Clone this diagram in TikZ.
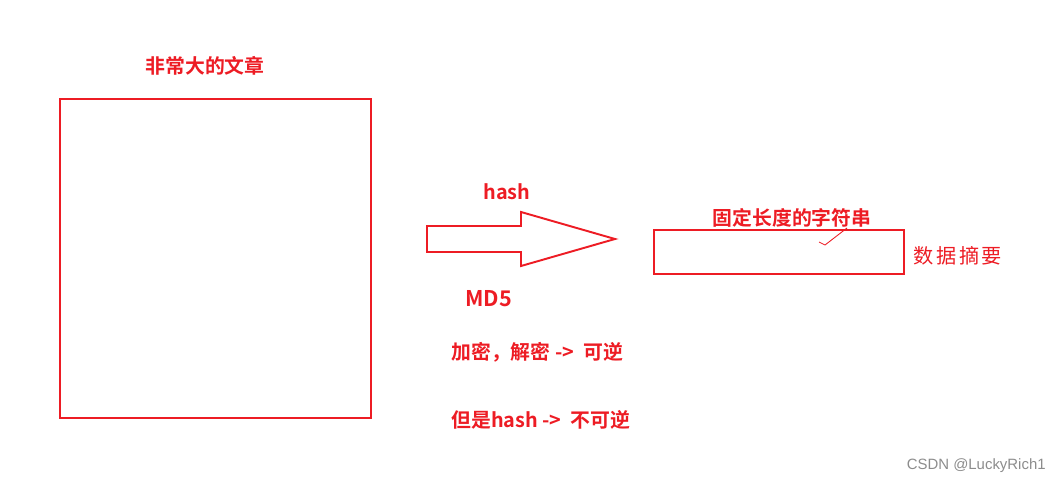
\documentclass[tikz,border=0pt]{standalone}
\usepackage{fontspec}
\setmainfont{Liberation Sans}
\newfontfamily\cjkbold{Noto Sans CJK SC}[BoldFont={Noto Sans CJK SC Bold}]
\newfontfamily\cjk{Noto Sans CJK SC}
\usetikzlibrary{positioning}
\definecolor{penred}{RGB}{237,28,36}
\tikzstyle{box} = [rectangle, draw=penred, line width=1.1pt]
\tikzstyle{label} = [text=penred, font=\cjkbold\bfseries\fontsize{11.3}{13}\selectfont, inner sep=0pt]
\tikzstyle{note} = [label, anchor=west]

\begin{document}
\begin{tikzpicture}[x=0.02cm, y=-0.02cm]
\useasboundingbox (0,0) rectangle (1061,483);

% Article
\node (article) [box, minimum width=311*0.02cm, minimum height=319*0.02cm] at (215.5,258.5) {};
\node (articletitle) [label] at (205,66) {非常大的文章};

% Hash arrow
\draw [penred, line width=1.1pt, line join=miter]
  (427,226) -- (521,226) -- (521,212) -- (615,239) -- (521,266) -- (521,252) -- (427,252) -- cycle;
\coordinate (arrowtop) at (507,192);
\node (hashlabel) [label] at (arrowtop) {hash};
\node (md5) [label, anchor=west] at (465,299) {\fontsize{12.3}{14}\selectfont MD5};

% Digest
\node (digest) [box, minimum width=250*0.02cm, minimum height=44*0.02cm] at (779,252) {};
\node (digesttitle) [label] at (792,218) {固定长度的字符串};
\draw [penred, line width=0.5pt] (819,242) -- (825,245) -- (847,228);
\node (digestname) [text=penred, font=\cjk\fontsize{11.5}{14}\selectfont, anchor=west, inner sep=0pt] at (913,256) {数\hspace{1.5pt}据\hspace{1.5pt}摘\hspace{1.5pt}要};

% Notes
\node (reversible) [note] at (451,352) {加密，解密 ->\ \ 可逆};
\node (irreversible) [note] at (451,420) {但是hash ->\ \ 不可逆};

% Watermark
\node (mark) [anchor=east, text=black!45, font=\fontsize{8.5}{10}\selectfont, inner sep=0pt] at (1046,466) {CSDN @LuckyRich1};

\end{tikzpicture}
\end{document}
